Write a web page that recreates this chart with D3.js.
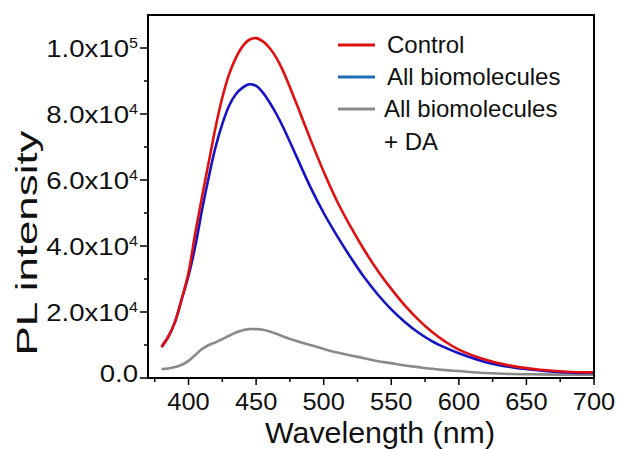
<!DOCTYPE html>
<html>
<head>
<meta charset="utf-8">
<script src="https://cdn.jsdelivr.net/npm/d3@7"></script>
<style>
  html, body { margin: 0; padding: 0; background: #fff; }
  text { font-family: "Liberation Sans", Arial, sans-serif; fill: #111; }
</style>
</head>
<body>
<div id="chart"></div>
<script>
// PL spectra: Control vs All biomolecules vs All biomolecules + DA
const wavelength = [380, 385, 390, 395, 400, 405, 410, 415, 420, 425, 430, 435, 440, 445, 450, 455, 460, 465, 470,
  480, 490, 500, 510, 520, 530, 540, 550, 560, 570, 580, 590, 600, 620, 640, 660, 680, 700];
const control = [9400, 12500, 17000, 24000, 32000, 44000, 55000, 65500, 76000, 85000, 92000, 97000, 100500, 102500, 103000, 102000, 100000, 97000, 93000,
  83000, 72500, 62500, 53500, 45800, 38800, 32500, 27000, 22000, 17700, 14000, 11000, 8600, 5500, 3600, 2500, 1900, 1700];
const allBio = [9400, 12500, 17000, 24000, 31000, 40000, 51000, 61000, 70000, 77000, 82500, 86000, 88000, 89000, 88500, 86500, 83500, 80000, 76000,
  67000, 58000, 50000, 43000, 36500, 30500, 25300, 20800, 17000, 13800, 11200, 9200, 7500, 4800, 3200, 2300, 1700, 1500];
const allBioDA = [2700, 2900, 3300, 4000, 5200, 7000, 8800, 10000, 10800, 11800, 12800, 13800, 14500, 14800, 14800, 14600, 14100, 13400, 12600,
  11200, 10000, 8800, 7700, 6800, 6000, 5100, 4500, 3800, 3300, 2800, 2400, 2100, 1500, 1200, 1100, 1000, 1000];
const xTicks = [400, 450, 500, 550, 600, 650, 700];
const yTicks = [0, 20000, 40000, 60000, 80000, 100000];
const yTickLabels = ["0.0", "2.0x10|4", "4.0x10|4", "6.0x10|4", "8.0x10|4", "1.0x10|5"];

const width = 619, height = 449;
const margin = {top: 15, right: 25, bottom: 71, left: 148};

const svg = d3.select("#chart").append("svg")
  .attr("width", width).attr("height", height);

const x = d3.scaleLinear().domain([370, 700]).range([margin.left, width - margin.right]);
const y = d3.scaleLinear().domain([0, 110000]).range([height - margin.bottom, margin.top]);

const series = [
  {name: "Control", values: control, color: "#e01010", legendColor: "#e01010"},
  {name: "All biomolecules", values: allBio, color: "#1414c4", legendColor: "#1f6db3"},
  {name: "All biomolecules|+ DA", values: allBioDA, color: "#8a8a8a", legendColor: "#8a8a8a"}
];

const line = d3.line().x(d => x(d[0])).y(d => y(d[1])).curve(d3.curveCatmullRom.alpha(0.5));

series.slice().reverse().forEach(s => {
  svg.append("path").datum(wavelength.map((w, i) => [w, s.values[i]]))
    .attr("fill", "none").attr("stroke", s.color).attr("stroke-width", 2.6)
    .attr("d", line);
});

// frame
svg.append("rect").attr("x", margin.left).attr("y", margin.top)
  .attr("width", width - margin.left - margin.right).attr("height", height - margin.top - margin.bottom)
  .attr("fill", "none").attr("stroke", "#000").attr("stroke-width", 2);

// x axis
const xAxis = svg.append("g").attr("transform", `translate(0,${y(0)})`);
xAxis.selectAll("line.minor").data(d3.range(375, 700, 50)).join("line")
  .attr("x1", d => x(d)).attr("x2", d => x(d)).attr("y1", 0).attr("y2", 4)
  .attr("stroke", "#000").attr("stroke-width", 1.5);
xAxis.selectAll("line.major").data(xTicks).join("line")
  .attr("x1", d => x(d)).attr("x2", d => x(d)).attr("y1", 0).attr("y2", 7)
  .attr("stroke", "#000").attr("stroke-width", 1.5);
xAxis.selectAll("text").data(xTicks).join("text")
  .attr("transform", d => `translate(${x(d)},32) scale(1.06,1)`).attr("text-anchor", "middle")
  .attr("font-size", 24).text(d => d);

// y axis
const yAxis = svg.append("g").attr("transform", `translate(${x(370)},0)`);
yAxis.selectAll("line.minor").data(d3.range(10000, 110000, 20000)).join("line")
  .attr("x1", -4).attr("x2", 0).attr("y1", d => y(d)).attr("y2", d => y(d))
  .attr("stroke", "#000").attr("stroke-width", 1.5);
yAxis.selectAll("line.major").data(yTicks).join("line")
  .attr("x1", -8).attr("x2", 0).attr("y1", d => y(d)).attr("y2", d => y(d))
  .attr("stroke", "#000").attr("stroke-width", 1.5);
yAxis.selectAll("text").data(yTicks).join("text")
  .attr("transform", d => `translate(-10,${y(d) + (d === 0 ? 4 : 9)}) scale(1.15,1)`)
  .attr("text-anchor", "end").attr("font-size", 24)
  .each(function (d, i) {
    const parts = yTickLabels[i].split("|");
    const t = d3.select(this);
    t.append("tspan").text(parts[0]);
    if (parts[1]) t.append("tspan").attr("font-size", 14).attr("dy", -9).text(parts[1]);
  });

// axis titles
svg.append("text").attr("x", 380).attr("y", 443).attr("text-anchor", "middle")
  .attr("font-size", 29).attr("textLength", 230).attr("lengthAdjust", "spacingAndGlyphs")
  .text("Wavelength (nm)");
svg.append("text").attr("transform", "translate(37,243) rotate(-90)").attr("text-anchor", "middle")
  .attr("font-size", 30).attr("textLength", 225).attr("lengthAdjust", "spacingAndGlyphs")
  .text("PL intensity");

// legend
const legendY = [45, 77, 109];
const legend = svg.append("g");
series.forEach((s, i) => {
  legend.append("line").attr("x1", 338).attr("x2", 375).attr("y1", legendY[i]).attr("y2", legendY[i])
    .attr("stroke", s.legendColor).attr("stroke-width", 3);
  s.name.split("|").forEach((txt, j) => {
    legend.append("text").attr("x", i === 2 ? 384 : 387).attr("y", legendY[i] + 8 + j * 33)
      .attr("font-size", 24).text(txt);
  });
});
</script>
</body>
</html>
